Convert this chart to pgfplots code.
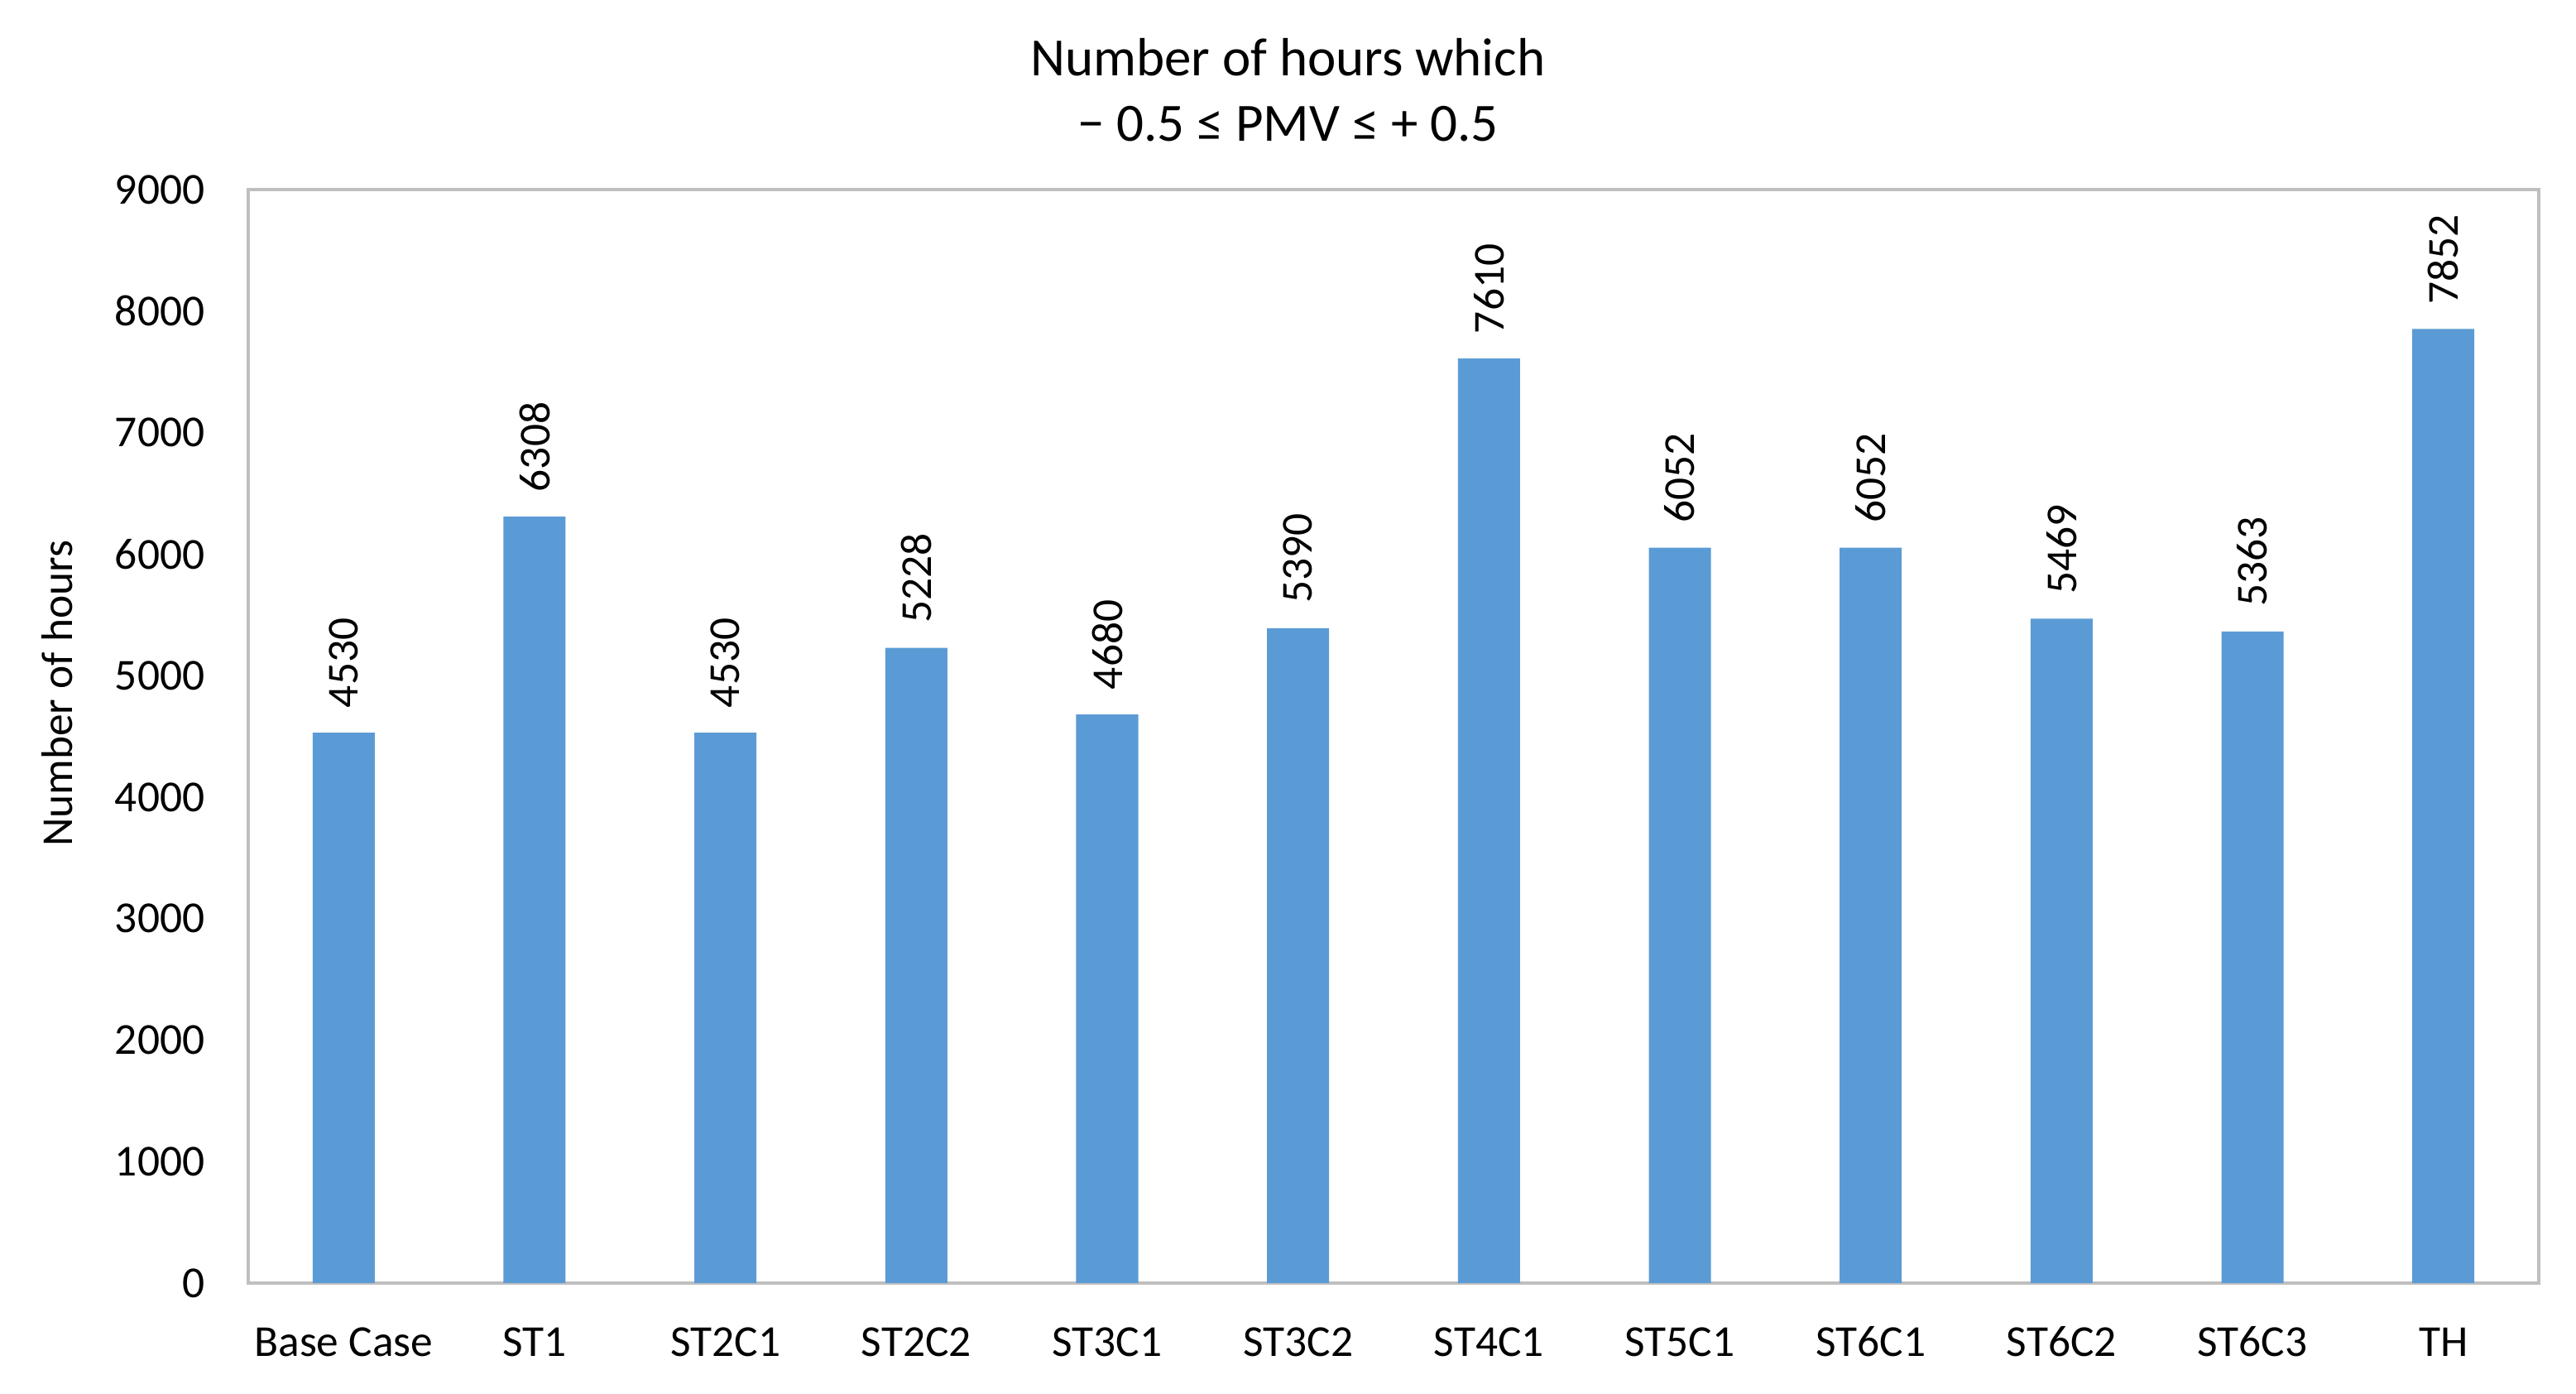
\documentclass[border=0pt]{standalone}
\usepackage{pgfplots}
\pgfplotsset{compat=1.18}
\usepackage{fontspec}
\setmainfont{Carlito}
\definecolor{barblue}{HTML}{5B9BD5}
\definecolor{framegray}{HTML}{BFBFBF}
\begin{document}
\begin{tikzpicture}
\path[use as bounding box] (-30mm,-13.4mm) rectangle (281.3mm,155.0mm);
\begin{axis}[
  at={(0,0)}, anchor=south west,
  width=276.8mm, height=132.1mm, scale only axis,
  xmin=-0.5, xmax=11.5, ymin=0, ymax=9000,
  ytick={0,1000,...,9000},
  xtick={0,...,11},
  xticklabels={Base Case,ST1,ST2C1,ST2C2,ST3C1,ST3C2,ST4C1,ST5C1,ST6C1,ST6C2,ST6C3,TH},
  major tick length=0pt,
  axis line style={framegray, line width=0.9pt},
  /pgf/number format/assume math mode=true,
  /pgf/number format/1000 sep={},
  tick label style={font=\fontsize{15.2}{17}\selectfont, inner sep=0pt},
  yticklabel style={anchor=east, xshift=-5.2mm},
  xticklabel style={anchor=base, yshift=-8.9mm},
  ylabel={Number of hours},
  ylabel style={at={(axis description cs:-0.0835,0.539)}, anchor=center, font=\fontsize{15.2}{17}\selectfont},
  title={Number of hours which\\− 0.5 ≤ PMV ≤ + 0.5},
  title style={at={(axis description cs:0.4539,1)}, anchor=center, yshift=9.95mm, align=center, font=\fontsize{18.5}{22.4}\selectfont},
  ybar, bar width=7.5mm,
  nodes near coords,
  nodes near coords style={rotate=90, anchor=west, inner sep=0pt, outer xsep=3mm, font=\fontsize{15.2}{17}\selectfont, black},
  clip=false,
]
\addplot[fill=barblue, draw=none] coordinates {
(0,4530) (1,6308) (2,4530) (3,5228) (4,4680) (5,5390)
(6,7610) (7,6052) (8,6052) (9,5469) (10,5363) (11,7852)};
\end{axis}
\end{tikzpicture}
\end{document}
